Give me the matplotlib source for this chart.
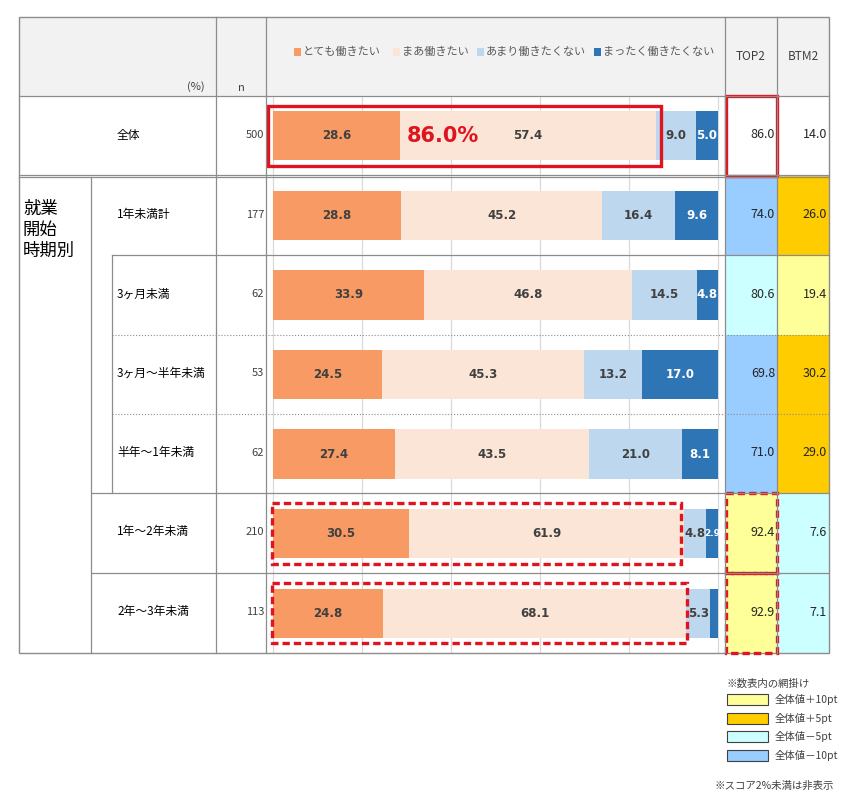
import matplotlib
matplotlib.use("Agg")
import matplotlib.pyplot as plt
from matplotlib.patches import Rectangle
import numpy as np

plt.rcParams['font.family'] = ['Noto Sans CJK JP', 'DejaVu Sans']

# data
rows = ['全体', '1年未満計', '3ヶ月未満', '3ヶ月～半年未満', '半年～1年未満', '1年～2年未満', '2年～3年未満']
n_values = [500, 177, 62, 53, 62, 210, 113]
series_names = ['とても働きたい', 'まあ働きたい', 'あまり働きたくない', 'まったく働きたくない']
very = [28.6, 28.8, 33.9, 24.5, 27.4, 30.5, 24.8]
somewhat = [57.4, 45.2, 46.8, 45.3, 43.5, 61.9, 68.1]
not_much = [9.0, 16.4, 14.5, 13.2, 21.0, 4.8, 5.3]
not_at_all = [5.0, 9.6, 4.8, 17.0, 8.1, 2.9, 1.8]
top2 = [86.0, 74.0, 80.6, 69.8, 71.0, 92.4, 92.9]
btm2 = [14.0, 26.0, 19.4, 30.2, 29.0, 7.6, 7.1]
group_label = '就業\n開始\n時期別'
shade_labels = ['全体値＋10pt', '全体値＋5pt', '全体値－5pt', '全体値－10pt']

# colours
bar_colors = ['#F79A63', '#FBE5D6', '#BDD7EE', '#2E75B6']
text_colors = ['#404040', '#404040', '#404040', 'white']
YELLOW, GOLD, CYAN, BLUE = '#FFFF99', '#FFCC00', '#CCFFFF', '#99CCFF'
RED = '#E0141E'
LINE = '#8C8C8C'


def shade(v, base):
    d = v - base
    if d >= 10:
        return GOLD
    if d >= 5:
        return YELLOW
    if d <= -10:
        return BLUE
    if d <= -5:
        return CYAN
    return 'white'


W, H = 859, 800
fig = plt.figure(figsize=(W / 100, H / 100), dpi=100)

# table layout in pixels
left, right, top_y, bottom = 19, 829, 17, 653
row_edges = [96, 176, 255, 335, 414, 493, 573, 653]
col_n, col_chart, col_top2, col_btm2 = 216, 266, 725, 777

bg = fig.add_axes([0, 0, 1, 1], zorder=0)
bg.set_xlim(0, W)
bg.set_ylim(H, 0)
bg.axis('off')

# header fill and shaded cells
bg.add_patch(Rectangle((left, top_y), right - left, row_edges[0] - top_y, color='#F2F2F2', lw=0))
for i in range(len(rows)):
    y0, y1 = row_edges[i], row_edges[i + 1]
    bg.add_patch(Rectangle((col_top2, y0), col_btm2 - col_top2, y1 - y0,
                           color=shade(top2[i], top2[0]), lw=0))
    bg.add_patch(Rectangle((col_btm2, y0), right - col_btm2, y1 - y0,
                           color=shade(btm2[i], btm2[0]), lw=0))

# chart column
x0px, x100px = 273, 718
pxper = (x100px - x0px) / 100
ax = fig.add_axes([col_chart / W, 1 - bottom / H, (col_top2 - col_chart) / W, (bottom - row_edges[0]) / H], zorder=1)
ax.patch.set_visible(False)
ax.set_xlim(-(x0px - col_chart) / pxper, 100 + (col_top2 - x100px) / pxper)
ax.set_ylim(len(rows) - 0.5, -0.5)
ax.axis('off')
for g in range(0, 101, 20):
    ax.axvline(g, color='#D9D9D9', lw=0.9, zorder=0)

y = np.arange(len(rows))
cum = np.zeros(len(rows))
for vals, col, tc in zip([very, somewhat, not_much, not_at_all], bar_colors, text_colors):
    vals = np.array(vals)
    ax.barh(y, vals, left=cum, height=0.62, color=col, lw=0, zorder=2)
    for yi, v, c in zip(y, vals, cum):
        if v >= 2:
            fs = 8.5 if v >= 4.5 else 6.5
            ax.text(c + v / 2, yi, f'{v:.1f}', ha='center', va='center', fontsize=fs,
                    fontweight='bold', color=tc, zorder=3, family='DejaVu Sans')
    cum += vals

# highlight boxes around TOP2 part of bars
ax.add_patch(Rectangle((-1.1, -0.38), top2[0] + 2.3, 0.76, fill=False, ec=RED, lw=2.4,
                       zorder=4, clip_on=False))
for i, pad in [(5, -0.6), (6, 0.4)]:
    ax.add_patch(Rectangle((-0.2, i - 0.38), top2[i] + pad, 0.76, fill=False, ec=RED, lw=2.4,
                           ls=(0, (2.2, 1.2)), zorder=4, clip_on=False))
ax.text(30, 0, f'{top2[0]:.1f}%', ha='left', va='center', fontsize=15, fontweight='bold',
        color=RED, zorder=5, family='DejaVu Sans')

# overlay: lines and text
ov = fig.add_axes([0, 0, 1, 1], zorder=2)
ov.patch.set_visible(False)
ov.set_xlim(0, W)
ov.set_ylim(H, 0)
ov.axis('off')


def hl(yv, xa, xb, ls='-', lw=0.9):
    ov.plot([xa, xb], [yv, yv], color=LINE, lw=lw, ls=ls)


def vl(xv, ya, yb, ls='-', lw=0.9):
    ov.plot([xv, xv], [ya, yb], color=LINE, lw=lw, ls=ls)


ov.add_patch(Rectangle((left, top_y), right - left, bottom - top_y, fill=False, ec=LINE, lw=1.0))
hl(96, left, right)
hl(174.5, left, right)
hl(177, left, right)
hl(255, 112, right)
hl(335, 112, right, ls=':', lw=0.8)
hl(414, 112, right, ls=':', lw=0.8)
hl(493, 91, right)
hl(573, 91, right)
vl(91, 177, bottom)
vl(112, 255, 493)
for xv in [col_n, col_chart, col_top2, col_btm2]:
    vl(xv, top_y, bottom)

# TOP2 cell highlights
ov.add_patch(Rectangle((col_top2 + 1, row_edges[0]), col_btm2 - col_top2 - 1, 80, fill=False, ec=RED, lw=2.4))
for i in [5, 6]:
    ov.add_patch(Rectangle((col_top2 + 1, row_edges[i]), col_btm2 - col_top2 - 1, 80, fill=False, ec=RED,
                           lw=2.4, ls=(0, (2.2, 1.2))))

# header
ov.text(205, 87, '(%)', ha='right', va='center', fontsize=8, color='#404040')
ov.text(241, 88, 'n', ha='center', va='center', fontsize=8, color='#404040')
ov.text((col_top2 + col_btm2) / 2, 56, 'TOP2', ha='center', va='center', fontsize=8.5, color='#404040')
ov.text((col_btm2 + right) / 2, 56, 'BTM2', ha='center', va='center', fontsize=8.5, color='#404040')
for sx, name, col in zip([294, 393, 477, 594], series_names, bar_colors):
    ov.add_patch(Rectangle((sx, 48), 7, 8, color=col, lw=0))
    ov.text(sx + 9, 52, name, ha='left', va='center', fontsize=8, color='#595959')

# row labels and values
for i, name in enumerate(rows):
    yc = (row_edges[i] + row_edges[i + 1]) / 2 - 1
    ov.text(117, yc, name, ha='left', va='center', fontsize=8.5, color='black')
    ov.text(264, yc, str(n_values[i]), ha='right', va='center', fontsize=8, color='#404040')
    ov.text(col_btm2 - 2, yc, f'{top2[i]:.1f}', ha='right', va='center', fontsize=9, color='#262626')
    ov.text(right - 2, yc, f'{btm2[i]:.1f}', ha='right', va='center', fontsize=9, color='#262626')
ov.text(23, 230, group_label, ha='left', va='center', fontsize=12.5, linespacing=1.2, color='black')

# shading legend
ov.text(726, 684, '※数表内の網掛け', ha='left', va='center', fontsize=7.5, color='#404040')
for k, (lab, col) in enumerate(zip(shade_labels, [YELLOW, GOLD, CYAN, BLUE])):
    yy = 694 + k * 18.5
    ov.add_patch(Rectangle((727, yy), 41, 11, fc=col, ec='#404040', lw=0.8))
    ov.text(775, yy + 5.5, lab, ha='left', va='center', fontsize=7.5, color='#404040')
ov.text(715, 786, '※スコア2%未満は非表示', ha='left', va='center', fontsize=7.5, color='#404040')

fig.savefig('out.png', dpi=100, facecolor='white')
